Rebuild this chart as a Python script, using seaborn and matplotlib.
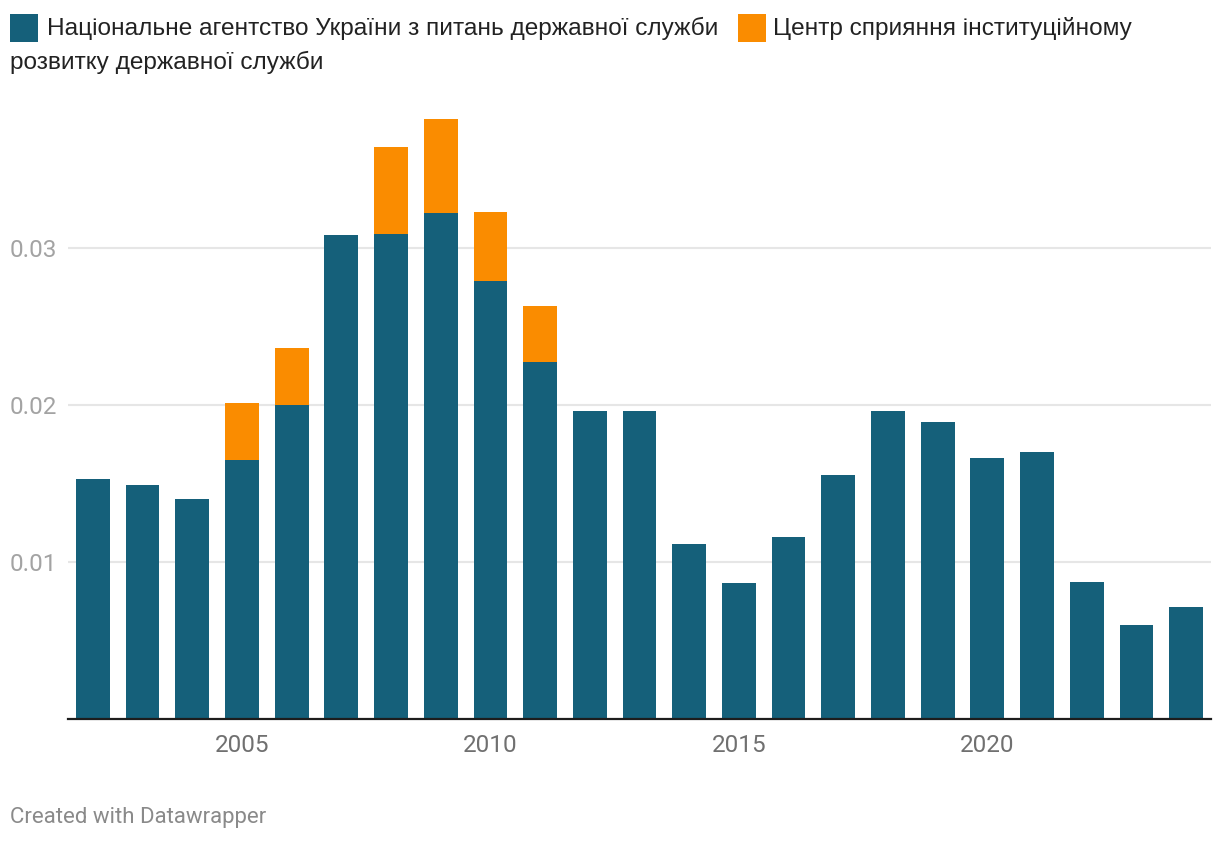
import numpy as np
import pandas as pd
import matplotlib
matplotlib.use("Agg")
import matplotlib.pyplot as plt
import seaborn as sns
from matplotlib.patches import Rectangle

# Data
years = list(range(2002, 2025))
agency = [0.01527, 0.01489, 0.01399, 0.01648, 0.02000, 0.03081, 0.03087, 0.03221,
          0.02790, 0.02272, 0.01960, 0.01960, 0.01113, 0.00865, 0.01157, 0.01552,
          0.01960, 0.01890, 0.01661, 0.01699, 0.00871, 0.00597, 0.00711]
centre = [0, 0, 0, 0.00363, 0.00361, 0, 0.00554, 0.00598,
          0.00437, 0.00357, 0, 0, 0, 0, 0, 0,
          0, 0, 0, 0, 0, 0, 0]
y_ticks = [0.01, 0.02, 0.03]
y_tick_labels = ["0.01", "0.02", "0.03"]
x_tick_years = [2005, 2010, 2015, 2020]

series_names = ["Національне агентство України з питань державної служби",
                "Центр сприяння інституційному"]
series_wrap = "розвитку державної служби"

BLUE = "#15607a"
ORANGE = "#fa8c00"

df = pd.DataFrame({"year": [str(y) for y in years], "agency": agency, "centre": centre})
df["total"] = df["agency"] + df["centre"]

sns.set_theme(style="white")
plt.rcParams["font.family"] = ["Roboto", "DejaVu Sans"]

fig = plt.figure(figsize=(12.2, 8.42), dpi=100)
ax = fig.add_axes([68 / 1220, 1 - 718.7 / 842, (1211 - 68) / 1220, (718.7 - 106.4) / 842])

order = df["year"].tolist()
sns.barplot(data=df, x="year", y="total", order=order, color=ORANGE, width=0.68,
            saturation=1, linewidth=0, edgecolor="none", ax=ax, zorder=2)
sns.barplot(data=df, x="year", y="agency", order=order, color=BLUE, width=0.68,
            saturation=1, linewidth=0, edgecolor="none", ax=ax, zorder=3)

ax.set_xlim(-0.5, len(years) - 0.5)
ax.set_ylim(0, 0.039)
ax.set_xlabel("")
ax.set_ylabel("")

# gridlines
for v in y_ticks:
    ax.axhline(v, color="#e6e6e6", lw=1.5, zorder=1)

ax.set_yticks(y_ticks)
ax.set_yticklabels(y_tick_labels)
ax.tick_params(axis="y", length=0, pad=41.8, labelsize=17.5, labelcolor="#a3a3a3")
for lbl in ax.get_yticklabels():
    lbl.set_horizontalalignment("left")

ax.set_xticks([order.index(str(y)) for y in x_tick_years])
ax.set_xticklabels([str(y) for y in x_tick_years])
ax.tick_params(axis="x", length=0, pad=11, labelsize=17.5, labelcolor="#707070")

for s in ["top", "right", "left"]:
    ax.spines[s].set_visible(False)
ax.spines["bottom"].set_color("#1d1d1d")
ax.spines["bottom"].set_linewidth(1.6)
ax.spines["bottom"].set_zorder(5)

# legend drawn as in the original layout (second label wraps to the left margin)
W, H = 1220, 842
leg_font = ["Liberation Sans", "DejaVu Sans"]
leg_size = 17.6
fig.patches.append(Rectangle((10 / W, 1 - 42 / H), 28 / W, 28 / H, transform=fig.transFigure,
                             facecolor=BLUE, edgecolor="none"))
fig.text(47 / W, 1 - 28 / H, series_names[0], fontsize=leg_size, family=leg_font,
         color="#222222", va="center", ha="left")
fig.patches.append(Rectangle((738 / W, 1 - 42 / H), 28 / W, 28 / H, transform=fig.transFigure,
                             facecolor=ORANGE, edgecolor="none"))
fig.text(773 / W, 1 - 28 / H, series_names[1], fontsize=leg_size, family=leg_font,
         color="#222222", va="center", ha="left")
fig.text(10 / W, 1 - 62 / H, series_wrap, fontsize=leg_size, family=leg_font,
         color="#222222", va="center", ha="left")

fig.text(10 / W, 1 - 817 / H, "Created with Datawrapper", fontsize=16, color="#8a8a8a",
         va="center", ha="left")

fig.savefig("out.png", dpi=100, facecolor="white")
